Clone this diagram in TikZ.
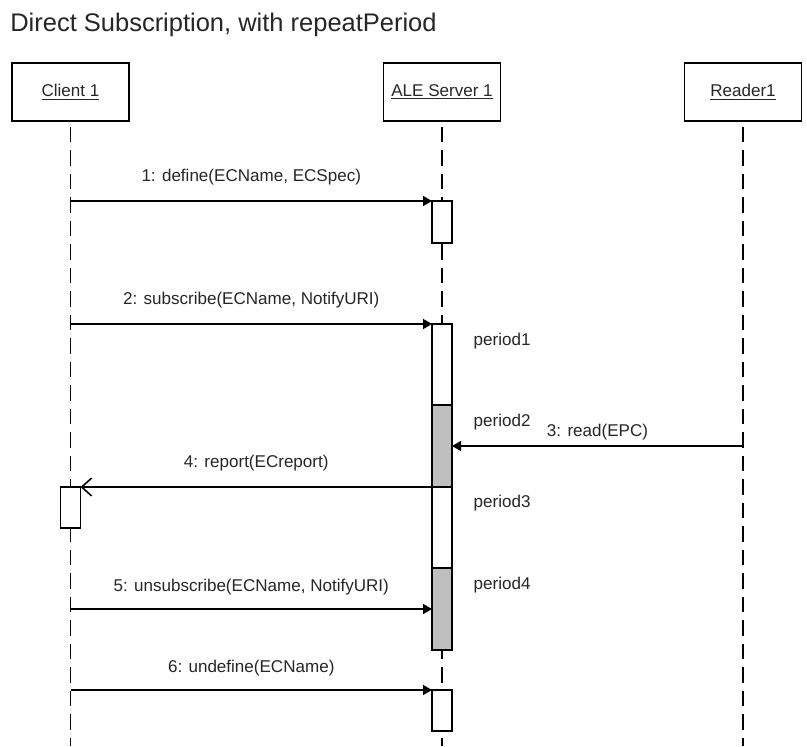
\documentclass[tikz,border=0pt]{standalone}
\usepackage{fontspec}
\setmainfont{Liberation Sans}
\usepackage{tikz}
\usetikzlibrary{arrows.meta,positioning}

\begin{document}
\begin{tikzpicture}[
    actor/.style={draw, line width=1.1pt, minimum width=2.34cm, minimum height=1.16cm,
                  font=\fontsize{9.7}{11}\selectfont},
    life/.style={line width=0.9pt, dash pattern=on 0.31cm off 0.16cm},
    act/.style={draw, line width=0.9pt, fill=white, minimum width=0.4cm, outer sep=0pt,
                inner sep=0pt},
    busy/.style={act, fill=gray!50},
    msg/.style={-{Triangle[length=0.18cm, width=0.2cm]}, line width=0.9pt},
    reply/.style={-{Straight Barb[length=0.2cm, width=0.36cm]}, line width=0.9pt},
    lbl/.style={font=\fontsize{9.7}{11}\selectfont, text=black!85},
    every node/.style={text=black!85}
]
\useasboundingbox (0,0) rectangle (16.14,-14.92);

% --- Title ---
\node[anchor=base west, inner sep=0pt, font=\fontsize{14.5}{17}\selectfont] (title)
    at (0.2,-0.634) {Direct Subscription, with repeatPeriod};

% --- Participants ---
\node[actor] (client) at (1.41,-1.84) {\underline{Client 1}};
\node[actor] (server) at (8.84,-1.84) {\underline{ALE Server 1}};
\node[actor] (reader) at (14.86,-1.84) {\underline{Reader1}};

\coordinate (clientEnd) at (1.41,-14.92);
\coordinate (serverEnd) at (8.84,-14.92);
\coordinate (readerEnd) at (14.86,-14.92);

% --- Lifelines ---
\draw[life] ([yshift=-0.1cm]client.south) -- (clientEnd);
\draw[life] ([yshift=-0.1cm]server.south) -- (serverEnd);
\draw[life] ([yshift=-0.1cm]reader.south) -- (readerEnd);

% --- Activations ---
\node[act, minimum height=0.84cm, anchor=north] (def) at (8.84,-4.02) {};
\node[act, minimum height=1.62cm, anchor=north] (per1) at (8.84,-6.48) {};
\node[busy, minimum height=1.64cm, below=0pt of per1] (per2) {};
\node[act, minimum height=1.62cm, below=0pt of per2] (per3) {};
\node[busy, minimum height=1.64cm, below=0pt of per3] (per4) {};
\node[act, minimum height=0.82cm, anchor=north] (undef) at (8.84,-13.8) {};
\node[act, minimum height=0.82cm, anchor=north] (rep) at (1.41,-9.74) {};

% --- Period labels ---
\node[lbl, anchor=west] (p1) at (9.35,-6.82) {period1};
\node[lbl, anchor=west] (p2) at (9.35,-8.44) {period2};
\node[lbl, anchor=west] (p3) at (9.35,-10.06) {period3};
\node[lbl, anchor=west] (p4) at (9.35,-11.7) {period4};

% --- Messages ---
\draw[msg] (client |- def.north west) -- node[lbl, above=0.18cm] {1: define(ECName, ECSpec)}
    (def.north west);
\draw[msg] (client |- per1.north west) -- node[lbl, above=0.18cm] {2: subscribe(ECName, NotifyURI)}
    (per1.north west);
\draw[msg] (reader |- 0,-8.92) -- node[lbl, above=-0.02cm] {3: read(EPC)}
    (per2.east |- 0,-8.92);
\draw[reply] (per3.north west) -- node[lbl, above=0.18cm] {4: report(ECreport)}
    (rep.north east);
\draw[msg] (client |- 0,-12.18) -- node[lbl, above=0.14cm] {5: unsubscribe(ECName, NotifyURI)}
    (per4.west |- 0,-12.18);
\draw[msg] (client |- undef.north west) -- node[lbl, above=0.14cm] {6: undefine(ECName)}
    (undef.north west);

\end{tikzpicture}
\end{document}
